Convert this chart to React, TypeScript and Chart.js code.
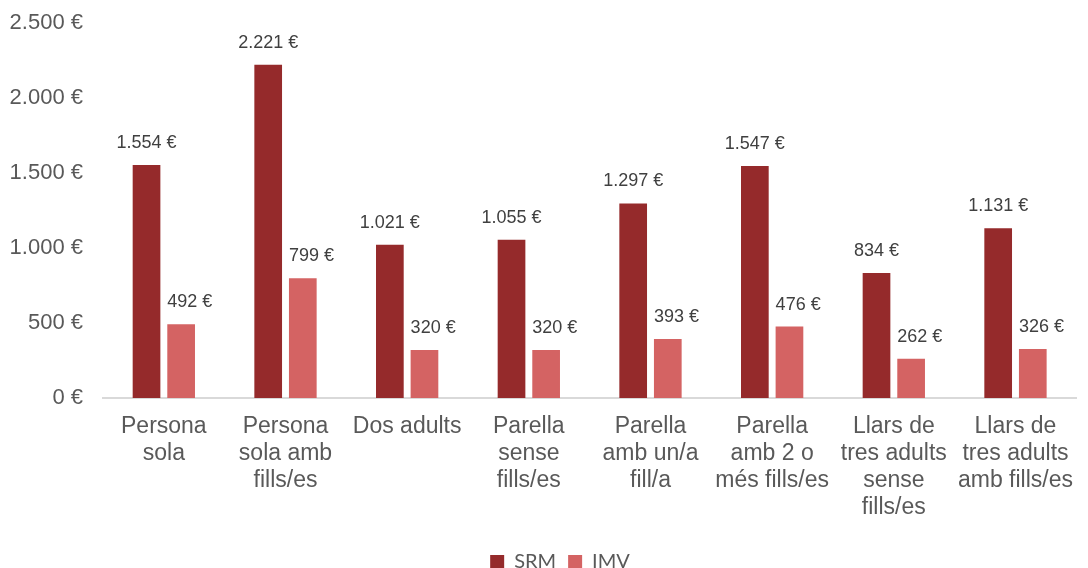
import React, { useEffect, useRef } from "react";
import { Chart, registerables } from "chart.js";

Chart.register(...registerables);

const categories: string[][] = [
  ["Persona", "sola"],
  ["Persona", "sola amb", "fills/es"],
  ["Dos adults"],
  ["Parella", "sense", "fills/es"],
  ["Parella", "amb un/a", "fill/a"],
  ["Parella", "amb 2 o", "més fills/es"],
  ["Llars de", "tres adults", "sense", "fills/es"],
  ["Llars de", "tres adults", "amb fills/es"],
];
const srmValues = [1554, 2221, 1021, 1055, 1297, 1547, 834, 1131];
const imvValues = [492, 799, 320, 320, 393, 476, 262, 326];
const yTicks = [0, 500, 1000, 1500, 2000, 2500];

const fmt = (v: number) => {
  const s = Math.round(v).toString().replace(/\B(?=(\d{3})+(?!\d))/g, ".");
  return s + " €";
};

const TEXT = "#595959";
const FONT = "'Liberation Sans', Arial, sans-serif";

const dataLabelPlugin = {
  id: "dataLabels",
  afterDatasetsDraw(chart: any) {
    const ctx = chart.ctx;
    ctx.save();
    ctx.font = `18px ${FONT}`;
    ctx.fillStyle = "#404040";
    ctx.textBaseline = "middle";
    chart.data.datasets.forEach((ds: any, i: number) => {
      const meta = chart.getDatasetMeta(i);
      meta.data.forEach((el: any, j: number) => {
        if (i === 0) {
          ctx.textAlign = "center";
          ctx.fillText(fmt(ds.data[j]), el.x, el.y - 22);
        } else {
          ctx.textAlign = "left";
          ctx.fillText(fmt(ds.data[j]), el.x - el.width / 2, el.y - 22);
        }
      });
    });
    ctx.restore();
  },
};

const legendShiftPlugin = {
  id: "legendShift",
  afterLayout(chart: any) {
    const l = chart.legend;
    if (!l) return;
    l.left += 16;
    l.right += 16;
    l.top += 14;
    l.bottom += 14;
  },
};

export default function App() {
  const ref = useRef<HTMLCanvasElement>(null);
  useEffect(() => {
    const chart = new Chart(ref.current!, {
      type: "bar",
      data: {
        labels: categories,
        datasets: [
          {
            label: "SRM",
            data: srmValues,
            backgroundColor: "#952A2B",
            categoryPercentage: 0.569,
            barPercentage: 0.8,
          },
          {
            label: "IMV",
            data: imvValues,
            backgroundColor: "#D46363",
            categoryPercentage: 0.569,
            barPercentage: 0.8,
          },
        ],
      },
      options: {
        animation: false,
        responsive: false,
        maintainAspectRatio: false,
        layout: { padding: { top: 23, right: 0, bottom: 0, left: 0 } },
        plugins: {
          tooltip: { enabled: false },
          legend: {
            position: "bottom",
            labels: {
              boxWidth: 14,
              boxHeight: 14,
              padding: 12,
              color: TEXT,
              font: { family: "Lato, 'Open Sans', sans-serif", size: 20 },
            },
          },
        },
        scales: {
          x: {
            grid: { display: false, drawTicks: false },
            border: { display: true, color: "#D9D9D9", width: 2 },
            ticks: {
              color: TEXT,
              font: { family: FONT, size: 23, lineHeight: 1.17 },
              padding: 15,
              maxRotation: 0,
              minRotation: 0,
              autoSkip: false,
            },
            afterFit: (s: any) => {
              s.height = 128;
            },
          },
          y: {
            min: 0,
            max: 2500,
            afterBuildTicks: (s: any) => {
              s.ticks = yTicks.map((v) => ({ value: v }));
            },
            grid: { display: false, drawTicks: false },
            border: { display: false },
            ticks: {
              color: TEXT,
              font: { family: FONT, size: 22 },
              padding: 20,
              callback: (v: any) => fmt(Number(v)),
            },
            afterFit: (s: any) => {
              s.width = 103;
              s.paddingTop = 0;
              s.paddingBottom = 0;
            },
          },
        },
      },
      plugins: [dataLabelPlugin, legendShiftPlugin],
    });
    return () => chart.destroy();
  }, []);
  return (
    <div style={{ position: "fixed", left: 0, top: 0, width: 1088, height: 568, background: "#fff" }}>
      <canvas ref={ref} width={1088} height={568} style={{ width: 1088, height: 568 }} />
    </div>
  );
}
